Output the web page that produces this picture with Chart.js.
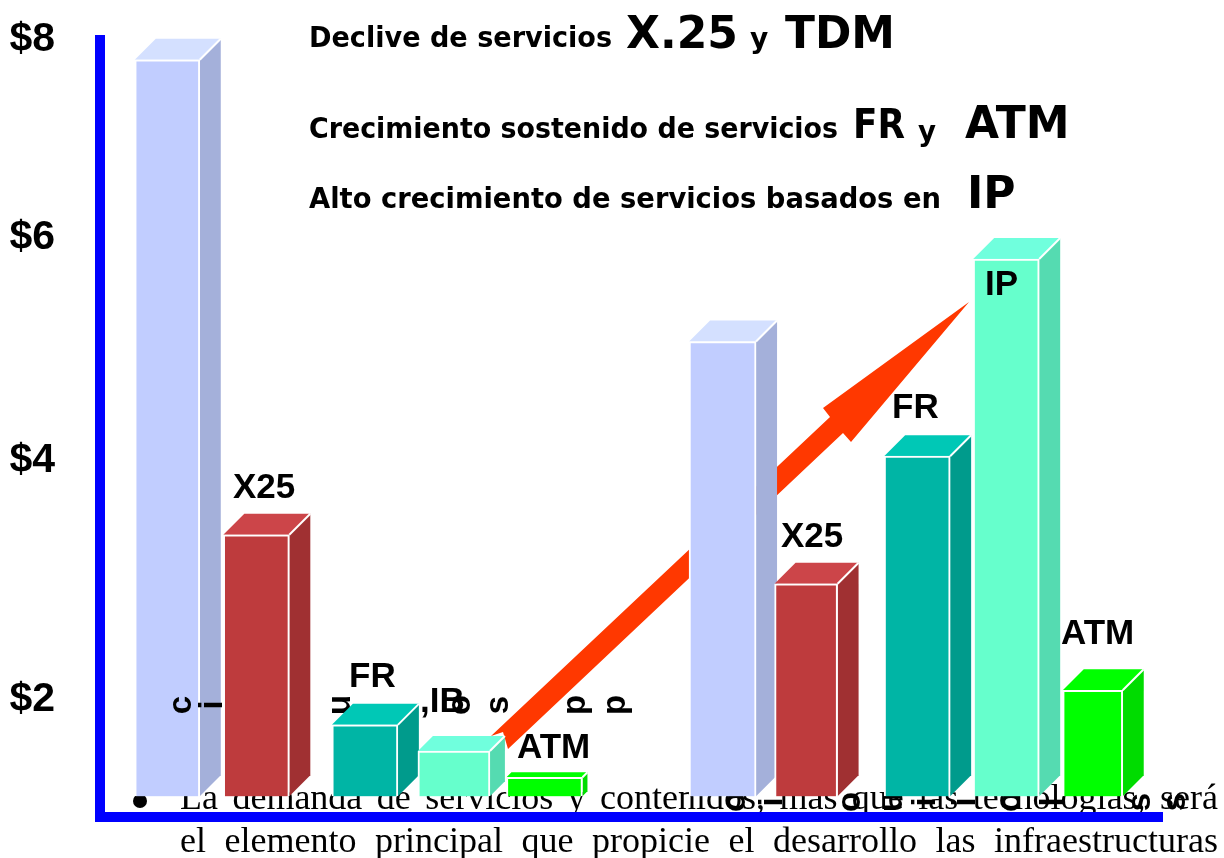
<!DOCTYPE html>
<html><head><meta charset="utf-8">
<style>html,body{margin:0;padding:0;background:#fff}#w{width:1224px;height:858px;position:relative;overflow:hidden}canvas{display:block}</style>
<script src="https://cdn.jsdelivr.net/npm/chart.js@4/dist/chart.umd.js"></script>
</head><body><div id="w"><canvas id="c" width="1224" height="858"></canvas></div>
<script>
// ---------- data ----------
const categories = ['TDM 1','X25 1','FR 1','IP 1','ATM 1','','TDM 2','X25 2','FR 2','IP 2','ATM 2'];
const serviceValues = [7.80,3.38,1.79,1.57,1.35,null,5.07,2.97,4.04,5.81,2.08];
const baseValue = 1.19;
const tickValues = [2,4,6,8];
const tickLabels = ['$2','$4','$6','$8'];
const barLabels = ['X25','FR',',IB','ATM','X25','FR','IP','ATM'];
const titleLines = ['Declive de servicios','Crecimiento sostenido de servicios','Alto crecimiento de servicios basados en'];
const bodyLines = ['La demanda de servicios y contenidos, más que las tecnologías, será','el elemento principal que propicie el desarrollo las infraestructuras'];

// ---------- style ----------
const PERI=['#C1CDFF','#A4B0DA','#D4E0FF'],RED=['#BE3B3D','#A03032','#CC4549'],TEAL=['#00B5A5','#009B8C','#00C8B6'],AQUA=['#66FFCC','#55DBB1','#70FFDD'],GREEN=['#00FF00','#00DC00','#00FF00'];
const faces=[PERI,RED,TEAL,AQUA,GREEN,null,PERI,RED,TEAL,AQUA,GREEN];
const depth=[21,21,21,15,5,0,21,21,21,21,21];
const nudge=[0,-3.5,12.5,9,7,0,0,-9,9.5,6,0];
const widths=[65,66,66,72,76,0,67,63,66,66,60];

// the axis of the slide is not evenly spaced: ticks sit at these fractions of its height
class SlideScale extends Chart.LinearScale{
  _stops(){return [[1,1],[2,.847],[4,.540],[6,.254],[8,0]];}
  getPixelForValue(v){
    const s=this._stops();let i=0;while(i<s.length-2&&v>s[i+1][0])i++;
    const f=s[i][1]+(v-s[i][0])*(s[i+1][1]-s[i][1])/(s[i+1][0]-s[i][0]);
    return this.top+f*(this.bottom-this.top);
  }
}
SlideScale.id='slide';SlideScale.defaults=Chart.LinearScale.defaults;
Chart.register(SlideScale);

const SANS='"Liberation Sans",Arial,sans-serif',TITLE='"DejaVu Sans",sans-serif',SERIF='"Liberation Serif","Times New Roman",serif';
function text(c,s,x,y,font,maxW,align){c.font=font;c.textAlign=align||'left';c.textBaseline='alphabetic';c.fillStyle='#000';maxW?c.fillText(s,x,y,maxW):c.fillText(s,x,y);}
function rot(c,s,x,y){c.save();c.translate(x,y);c.rotate(-Math.PI/2);c.font='bold 33px '+SANS;c.fillStyle='#000';c.textAlign='center';c.textBaseline='alphabetic';c.fillText(s,0,0);c.restore();}

const slide={id:'slide',
  afterDatasetsUpdate(ch){
    ch.getDatasetMeta(0).data.forEach((el,i)=>{el.x+=nudge[i];el.width=widths[i]||0;});
  },
  beforeDatasetsDraw(ch){
    const c=ch.ctx,a=ch.chartArea;c.save();
    // body text behind the chart
    c.fillStyle='#000';c.beginPath();c.arc(a.left+19,801,7,0,7);c.fill();
    const bl=[[bodyLines[0],809],[bodyLines[1],852]];
    bl.forEach(([s,y])=>{
      c.font='36px '+SERIF;c.wordSpacing='0px';
      const w=c.measureText(s).width,n=s.split(' ').length-1;
      c.wordSpacing=((1218-180-w)/n)+'px';
      text(c,s,180,y,'36px '+SERIF);c.wordSpacing='0px';
    });
    // rotated fragments of the slide's hidden labels
    [['u',350],['o',470],['s',508],['p',585],['p',625]].forEach(([s,x])=>rot(c,s,x,705));
    [['o',745],['i',782],['o',860],['u',902],['i',935],['i',975],['o',1020],['l',1063],['s',1150],['s',1185]].forEach(([s,x])=>rot(c,s,x,802));
    // arrow
    c.fillStyle='#FF3800';c.beginPath();
    [[491,736],[830,417],[823,408],[969,302],[851,442],[843,433],[508,749],[503,732]].forEach((p,i)=>i?c.lineTo(p[0],p[1]):c.moveTo(p[0],p[1]));
    c.closePath();c.fill();
    // 3D faces
    ch.getDatasetMeta(0).data.forEach((el,i)=>{
      const d=depth[i];if(!d)return;
      const l=el.x-el.width/2,r=el.x+el.width/2,t=el.y,b=el.base;
      c.strokeStyle='#fff';c.lineWidth=2;
      c.fillStyle=faces[i][1];c.beginPath();c.moveTo(r,t);c.lineTo(r+d,t-d);c.lineTo(r+d,b-d);c.lineTo(r,b);c.closePath();c.fill();
      c.fillStyle=faces[i][2];c.beginPath();c.moveTo(l,t);c.lineTo(l+d,t-d);c.lineTo(r+d,t-d);c.lineTo(r,t);c.closePath();c.fill();
      c.beginPath();c.moveTo(r,t);c.lineTo(r+d,t-d);c.stroke();
    });
    c.restore();
  },
  afterDatasetsDraw(ch){
    const c=ch.ctx,a=ch.chartArea;c.save();
    // blue axes
    c.fillStyle='#0000FF';
    c.fillRect(a.left-26,35,10,a.bottom-35-2);
    c.fillRect(a.left-26,a.bottom-7,1163-(a.left-26),10);
    // fragments that sit on top of the first bar
    [['c',191],['i',222]].forEach(([s,x])=>rot(c,s,x,705));
    // bar labels
    const B='bold 35px '+SANS;
    [[0,233,498],[1,349,687],[2,420,712],[3,517,758],[4,781,547],[5,892,418],[6,985,295],[7,1061,644]].forEach(([i,x,y])=>text(c,barLabels[i],x,y,B));
    // headline text
    const S='bold 28px '+TITLE,L='bold 44px '+TITLE,M='bold 40px '+TITLE;
    text(c,titleLines[0],309,47,S,303);
    text(c,'X.25',626,48,L,116);text(c,'y',750,48,S,20);text(c,'TDM',785,48,L,110);
    text(c,titleLines[1],309,138,S,529);
    text(c,'FR',853,138,M,52);text(c,'y',918,141,S,18);text(c,'ATM',965,138,L,107);
    text(c,titleLines[2],309,208,S,632);
    text(c,'IP',967,208,L,49);
    c.restore();
  }
};

new Chart(document.getElementById('c'),{
  type:'bar',
  data:{labels:categories,datasets:[{
    data:serviceValues,base:baseValue,
    backgroundColor:faces.map(f=>f?f[0]:'transparent'),
    borderColor:'#fff',borderWidth:2,categoryPercentage:1,barPercentage:1
  }]},
  options:{
    responsive:false,animation:false,events:[],
    layout:{padding:{top:40,bottom:39,left:0,right:85}},
    plugins:{legend:{display:false},title:{display:false},tooltip:{enabled:false}},
    scales:{
      x:{display:false,offset:true},
      y:{type:'slide',min:1,max:8,
        afterBuildTicks(s){s.ticks=tickValues.map(v=>({value:v}));},
        afterFit(s){s.width=121;s.paddingTop=0;s.paddingBottom=0;},
        grid:{display:false,drawTicks:false},border:{display:false},
        ticks:{padding:66,color:'#000',font:{family:SANS,size:41,weight:'bold'},
          callback:(v)=>tickLabels[tickValues.indexOf(v)]}
      }
    }
  },
  plugins:[slide]
});
</script>
</body></html>
